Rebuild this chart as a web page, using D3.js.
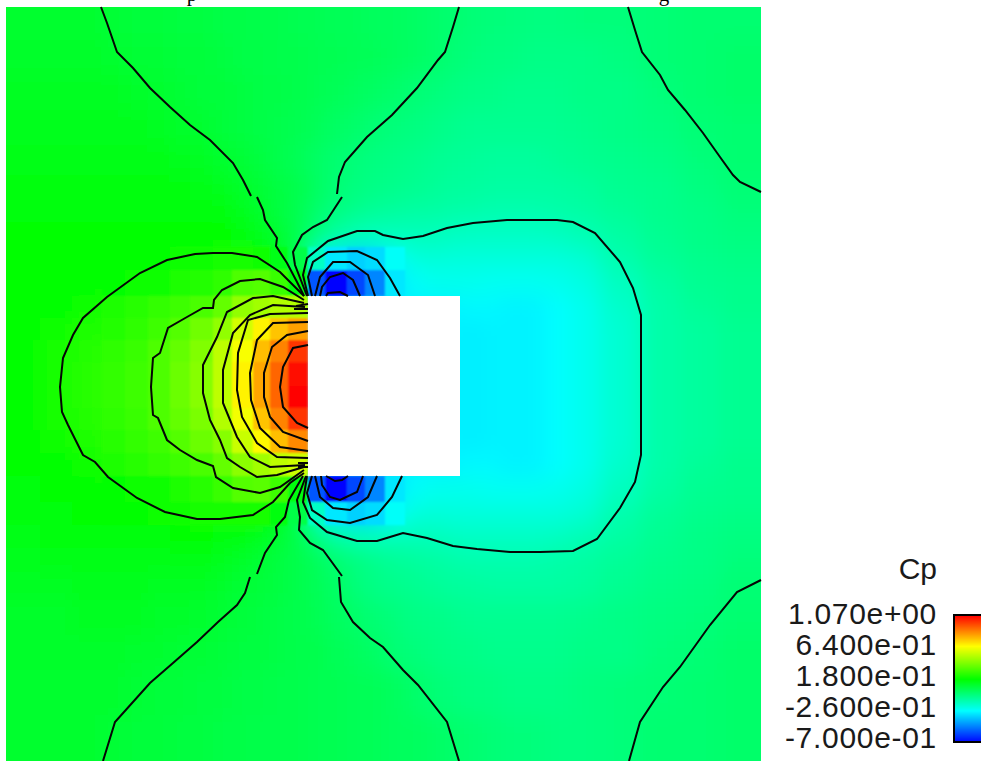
<!DOCTYPE html>
<html>
<head>
<meta charset="utf-8">
<script src="https://cdn.jsdelivr.net/npm/d3@7"></script>
<style>
  html, body { margin: 0; padding: 0; background: #fff; overflow: hidden; }
  svg { display: block; }
</style>
</head>
<body>
<svg id="chart" width="981" height="761"></svg>
<script>
// mesh lines, left to right and top to bottom
var xEdges = [6,40,72,102,125,148,170,190,213,232,253,270,288,308,325,347,365,385,405,425,443,460,480,500,520,545,570,600,640,680,720,761];
var yEdges = [7,40,75,110,145,175,200,222,247,270,296,318,340,362,386,408,430,453,476,502,525,548,572,600,635,670,715,761];
var bodyBox = [308, 296, 460, 476];
var bodyFillCp = -0.28;
// these cells keep hard edges, the far field is blended
var blockyCols = [3, 17];
var blockyRows = [8, 19];

// Cp per mesh cell. null = inside the body
var _ = null;
var cp = [
[.10,.10,.10,.09,.08,.08,.07,.07,.06,.06,.05,.05,.04,.04,.03,.03,.02,.02,.01,.00,-.01,-.02,-.03,-.03,-.04,-.04,-.03,-.03,-.02,-.01,-.01],
[.11,.11,.11,.10,.09,.09,.08,.08,.07,.06,.06,.05,.05,.04,.04,.03,.03,.02,.01,.00,-.02,-.03,-.04,-.04,-.05,-.05,-.05,-.04,-.02,-.01,.00],
[.12,.12,.12,.12,.11,.10,.09,.08,.08,.07,.06,.06,.05,.04,.03,.02,.01,.00,-.02,-.03,-.04,-.05,-.05,-.06,-.06,-.06,-.05,-.05,-.03,-.01,.00],
[.13,.13,.13,.13,.13,.12,.11,.10,.08,.07,.06,.05,.04,.03,.01,.00,-.02,-.03,-.04,-.05,-.06,-.07,-.07,-.07,-.07,-.07,-.06,-.05,-.04,-.02,-.01],
[.14,.14,.14,.14,.14,.14,.13,.12,.10,.09,.07,.05,.03,.01,-.01,-.03,-.04,-.05,-.06,-.07,-.08,-.08,-.09,-.09,-.09,-.08,-.07,-.06,-.05,-.03,-.01],
[.15,.15,.15,.15,.15,.15,.15,.14,.13,.11,.09,.07,.05,.02,-.02,-.04,-.05,-.06,-.07,-.08,-.09,-.09,-.10,-.10,-.10,-.10,-.09,-.07,-.06,-.04,-.02],
[.16,.16,.16,.16,.16,.16,.16,.16,.15,.13,.10,.07,.04,.00,-.04,-.06,-.08,-.09,-.10,-.10,-.11,-.11,-.12,-.12,-.12,-.11,-.10,-.08,-.06,-.05,-.03],
[.17,.17,.17,.17,.17,.17,.17,.17,.17,.15,.13,.10,.05,-.03,-.09,-.13,-.14,-.14,-.14,-.14,-.15,-.16,-.16,-.16,-.16,-.15,-.13,-.10,-.07,-.05,-.04],
[.17,.18,.18,.18,.18,.19,.20,.21,.22,.22,.21,.14,.06,-.16,-.30,-.34,-.32,-.25,-.20,-.19,-.20,-.20,-.20,-.20,-.20,-.20,-.18,-.12,-.08,-.06,-.05],
[.17,.18,.18,.19,.20,.21,.23,.24,.26,.32,.33,.28,.15,-.55,-.70,-.58,-.47,-.30,-.25,-.23,-.23,-.23,-.24,-.24,-.24,-.23,-.21,-.15,-.10,-.07,-.06],
[.17,.19,.21,.23,.25,.27,.29,.31,.36,.44,.47,.50,.50,_,_,_,_,_,_,_,_,-.27,-.27,-.28,-.28,-.26,-.23,-.17,-.11,-.08,-.06],
[.18,.20,.23,.24,.26,.29,.33,.38,.44,.56,.66,.74,.80,_,_,_,_,_,_,_,_,-.29,-.28,-.28,-.28,-.26,-.23,-.18,-.11,-.09,-.07],
[.19,.22,.24,.26,.28,.32,.36,.41,.52,.63,.75,.85,.98,_,_,_,_,_,_,_,_,-.29,-.28,-.28,-.28,-.26,-.23,-.18,-.11,-.09,-.07],
[.19,.22,.25,.27,.29,.32,.37,.42,.52,.66,.79,.90,1.05,_,_,_,_,_,_,_,_,-.29,-.28,-.28,-.28,-.26,-.23,-.18,-.11,-.09,-.07],
[.19,.22,.25,.27,.29,.32,.37,.42,.52,.66,.79,.90,1.06,_,_,_,_,_,_,_,_,-.29,-.28,-.28,-.28,-.26,-.23,-.18,-.11,-.09,-.07],
[.18,.22,.24,.26,.28,.32,.36,.40,.50,.62,.74,.85,.98,_,_,_,_,_,_,_,_,-.29,-.28,-.28,-.28,-.26,-.23,-.18,-.11,-.09,-.07],
[.18,.20,.23,.25,.27,.29,.33,.37,.42,.54,.65,.75,.84,_,_,_,_,_,_,_,_,-.29,-.28,-.28,-.28,-.26,-.23,-.18,-.11,-.09,-.07],
[.17,.19,.21,.23,.25,.27,.29,.31,.36,.43,.47,.52,.55,_,_,_,_,_,_,_,_,-.27,-.27,-.28,-.28,-.26,-.23,-.17,-.11,-.08,-.06],
[.16,.17,.18,.19,.20,.21,.23,.25,.28,.33,.34,.29,.16,-.55,-.70,-.58,-.47,-.30,-.25,-.23,-.23,-.23,-.24,-.24,-.24,-.23,-.21,-.15,-.10,-.07,-.06],
[.15,.16,.17,.17,.18,.20,.21,.22,.22,.22,.22,.15,.06,-.16,-.30,-.34,-.32,-.25,-.20,-.19,-.20,-.20,-.20,-.20,-.20,-.20,-.18,-.12,-.08,-.06,-.05],
[.14,.15,.15,.16,.16,.16,.17,.17,.16,.15,.13,.10,.05,-.03,-.10,-.13,-.14,-.14,-.14,-.14,-.15,-.16,-.16,-.16,-.16,-.15,-.13,-.10,-.07,-.05,-.04],
[.13,.14,.14,.14,.14,.14,.14,.14,.13,.11,.09,.07,.05,.03,-.01,-.04,-.06,-.08,-.09,-.10,-.11,-.12,-.12,-.12,-.12,-.11,-.10,-.08,-.06,-.05,-.03],
[.12,.12,.13,.13,.13,.12,.12,.12,.11,.09,.08,.07,.05,.03,.01,-.03,-.05,-.06,-.07,-.08,-.09,-.09,-.10,-.10,-.10,-.10,-.09,-.07,-.05,-.04,-.02],
[.11,.11,.12,.12,.12,.11,.11,.10,.09,.08,.07,.06,.05,.04,.02,.00,-.02,-.03,-.05,-.05,-.06,-.07,-.07,-.07,-.07,-.07,-.06,-.05,-.04,-.03,-.01],
[.11,.11,.11,.11,.10,.10,.09,.09,.08,.07,.07,.06,.05,.05,.03,.02,.01,-.02,-.03,-.04,-.05,-.05,-.06,-.06,-.06,-.06,-.05,-.05,-.03,-.02,.00],
[.10,.10,.10,.10,.09,.08,.08,.07,.07,.06,.06,.05,.05,.04,.04,.03,.03,.02,.00,-.02,-.03,-.04,-.04,-.05,-.05,-.05,-.04,-.03,-.02,-.01,.00],
[.10,.10,.10,.09,.08,.08,.07,.07,.06,.06,.05,.05,.05,.04,.04,.03,.03,.02,.02,.01,.00,-.01,-.02,-.03,-.03,-.04,-.04,-.03,-.01,-.01,.00]
];

// contour lines, traced in mesh coordinates
var topLeftOuter = [[101,7],[107,23],[117,52],[133,68],[150,88],[170,107],[190,125],[210,140],[233,163],[243,180],[251,196]];
var topLeftInner = [[257,197],[263,210],[265,220],[277,238],[276,246],[287,263],[297,282],[304,296]];
var topMidOuter = [[459,7],[453,27],[445,52],[438,60],[417,88],[392,115],[367,137],[345,162],[339,177],[337,194]];
var topMidInner = [[342,197],[327,220],[313,227],[302,235],[293,252],[295,265],[302,283],[307,296]];
var topRight = [[628,7],[635,30],[642,52],[660,75],[668,90],[685,110],[703,133],[720,157],[733,175],[740,182],[761,192]];
var bottomRight = [[761,580],[737,592],[710,625],[680,667],[663,687],[640,722],[629,761]];
var bottomLeftOuter = [[257,574],[265,553],[277,535],[276,527],[285,517],[289,500],[303,476]];
var bottomLeftFar = [[250,577],[245,593],[237,605],[218,622],[197,642],[173,663],[150,683],[115,722],[103,761]];
var bottomMidInner = [[306,476],[297,500],[300,517],[299,530],[310,543],[323,550],[342,576]];
var bottomMidOuter = [[339,577],[341,602],[353,622],[370,638],[383,647],[403,670],[418,685],[447,722],[459,761]];

var wakeLine = [[308,296],[303,275],[307,258],[328,241],[357,231],[375,231],[383,235],[403,239],[423,236],[447,228],[473,223],[507,220],[557,220],[573,222],[595,233],[620,262],[633,288],[641,315],[641,455],[635,482],[620,508],[597,539],[573,551],[540,552],[510,552],[477,549],[453,546],[427,538],[403,533],[390,537],[377,541],[357,541],[327,532],[310,518],[303,502],[307,476]];

var suctionTop1 = [[400,296],[390,278],[377,260],[357,251],[328,252],[313,262],[308,277],[312,296]];
var suctionTop2 = [[375,296],[368,275],[350,262],[333,262],[320,277],[315,296]];
var suctionTop3 = [[360,296],[353,280],[343,273],[330,277],[322,287],[320,296]];
var suctionTop4 = [[348,296],[340,292],[328,293],[326,296]];
var suctionBot1 = [[402,476],[392,497],[377,515],[350,523],[327,520],[312,510],[307,493],[312,476]];
var suctionBot2 = [[377,476],[368,497],[350,510],[333,508],[320,497],[315,476]];
var suctionBot3 = [[363,476],[357,492],[340,500],[330,497],[322,485],[321,476]];
var suctionBot4 = [[348,476],[342,480],[335,481],[326,476]];

var front1 = [[304,296],[293,285],[280,272],[257,257],[232,253],[213,253],[195,254],[167,260],[140,273],[107,297],[83,318],[73,335],[63,358],[60,387],[62,412],[68,425],[83,455],[95,462],[108,477],[137,498],[165,512],[197,519],[220,519],[253,515],[273,502],[290,483],[304,473]];
var front2 = [[304,300],[283,287],[260,279],[240,281],[222,290],[214,300],[213,308],[203,308],[187,317],[168,328],[160,353],[153,358],[151,387],[153,415],[158,418],[167,440],[180,450],[197,460],[213,466],[216,477],[233,488],[260,493],[280,487],[304,470]];
var front3 = [[304,303],[273,296],[253,298],[227,312],[217,337],[203,365],[203,393],[210,420],[220,440],[227,458],[240,467],[257,477],[277,475],[304,467]];
var front4 = [[305,307],[273,305],[250,315],[233,333],[223,370],[223,403],[237,437],[250,457],[270,467],[305,465]];
var front5 = [[308,313],[270,314],[248,320],[238,353],[237,390],[242,417],[257,443],[277,457],[308,458]];
var front6 = [[308,322],[273,323],[257,340],[250,373],[251,400],[260,428],[280,447],[308,451]];
var front7 = [[308,331],[287,335],[272,347],[264,373],[264,397],[270,417],[283,432],[308,441]];
var front8 = [[308,345],[293,348],[283,367],[280,387],[283,407],[297,423],[308,428]];
var cornerTop = [[296,306],[308,304]];
var cornerTop2 = [[294,309],[308,309]];
var cornerBot = [[298,463],[308,463]];
var cornerBot2 = [[298,467],[308,467]];

var contours = [topLeftOuter, topLeftInner, topMidOuter, topMidInner, topRight, bottomRight,
  bottomLeftOuter, bottomLeftFar, bottomMidInner, bottomMidOuter, wakeLine,
  suctionTop1, suctionTop2, suctionTop3, suctionTop4, suctionBot1, suctionBot2, suctionBot3, suctionBot4,
  front1, front2, front3, front4, front5, front6, front7, front8, cornerTop, cornerTop2, cornerBot, cornerBot2];

// legend
var legendTitle = "Cp";
var legendTicks = [1.07, 0.64, 0.18, -0.26, -0.7];
var legendLabels = ["1.070e+00", "6.400e-01", "1.800e-01", "-2.600e-01", "-7.000e-01"];
// cut off text at the page top, only the descenders show
var clippedLetters = [{text: "p", x: 192}, {text: "g", x: 664}];

var svg = d3.select("#chart");

var x = d3.scaleLinear().domain([6, 761]).range([6, 761]);
var y = d3.scaleLinear().domain([7, 761]).range([7, 761]);

var color = d3.scaleLinear()
  .domain([-0.7, -0.48, -0.26, -0.04, 0.18, 0.41, 0.64, 0.855, 1.07])
  .range(["#0000ff", "#0080ff", "#00ffff", "#00ff80", "#00ff00", "#80ff00", "#ffff00", "#ff8000", "#ff0000"])
  .clamp(true);

var defs = svg.append("defs");
defs.append("clipPath").attr("id", "plotClip").append("rect")
  .attr("x", x(6)).attr("y", y(7))
  .attr("width", x(761) - x(6)).attr("height", y(761) - y(7));

function addBlur(id, dev) {
  defs.append("filter").attr("id", id)
    .attr("filterUnits", "userSpaceOnUse")
    .attr("x", -100).attr("y", -100).attr("width", 1100).attr("height", 1000)
    .append("feGaussianBlur").attr("stdDeviation", dev);
}
addBlur("farBlur", 11);
addBlur("nearBlur", 0.8);

var cells = [];
cp.forEach(function(row, j) {
  row.forEach(function(v, i) {
    if (v != null) cells.push({i: i, j: j, v: v});
  });
});

function cellLeft(d)   { return d.i == 0 ? x(6) - 40 : x(xEdges[d.i]); }
function cellRight(d)  { return d.i == 30 ? x(761) + 40 : x(xEdges[d.i + 1]); }
function cellTop(d)    { return d.j == 0 ? y(7) - 40 : y(yEdges[d.j]); }
function cellBottom(d) { return d.j == 26 ? y(761) + 40 : y(yEdges[d.j + 1]); }

var plot = svg.append("g").attr("clip-path", "url(#plotClip)");

// far field, blended. cells run past the frame so the blur does not fade at the edge
var farLayer = plot.append("g").attr("filter", "url(#farBlur)");
farLayer.append("rect")
  .attr("x", x(bodyBox[0]))
  .attr("y", y(bodyBox[1]))
  .attr("width", x(bodyBox[2]) - x(bodyBox[0]))
  .attr("height", y(bodyBox[3]) - y(bodyBox[1]))
  .attr("shape-rendering", "crispEdges")
  .style("fill", color(bodyFillCp));
farLayer.selectAll(".farCell").data(cells)
  .enter().append("rect")
  .attr("class", "farCell")
  .attr("x", cellLeft)
  .attr("y", cellTop)
  .attr("width", function(d) { return cellRight(d) - cellLeft(d); })
  .attr("height", function(d) { return cellBottom(d) - cellTop(d); })
  .attr("shape-rendering", "crispEdges")
  .style("fill", function(d) { return color(d.v); });

// blocks around the body
var nearCells = cells.filter(function(d) {
  return d.i >= blockyCols[0] && d.i <= blockyCols[1] && d.j >= blockyRows[0] && d.j <= blockyRows[1];
});
plot.append("g").attr("filter", "url(#nearBlur)").selectAll("rect").data(nearCells)
  .enter().append("rect")
  .attr("x", cellLeft)
  .attr("y", cellTop)
  .attr("width", function(d) { return cellRight(d) - cellLeft(d); })
  .attr("height", function(d) { return cellBottom(d) - cellTop(d); })
  .attr("shape-rendering", "crispEdges")
  .style("fill", function(d) { return color(d.v); });

// body
svg.append("rect")
  .attr("x", x(bodyBox[0]))
  .attr("y", y(bodyBox[1]))
  .attr("width", x(bodyBox[2]) - x(bodyBox[0]))
  .attr("height", y(bodyBox[3]) - y(bodyBox[1]))
  .style("fill", "#fff");

var line = d3.line()
  .x(function(d) { return x(d[0]); })
  .y(function(d) { return y(d[1]); });

svg.append("g").selectAll("path").data(contours)
  .enter().append("path")
  .attr("d", line)
  .style("fill", "none")
  .style("stroke", "#050505")
  .style("stroke-width", 2);

// colour bar, runs off the right edge of the page
var barY = d3.scaleLinear().domain([-0.7, 1.07]).range([742, 615]);
var barStops = d3.range(0, 127).map(function(k) { return barY.invert(615 + k); });

svg.append("g").selectAll("rect").data(barStops)
  .enter().append("rect")
  .attr("x", 954)
  .attr("y", function(d) { return barY(d); })
  .attr("width", 28)
  .attr("height", 1.5)
  .attr("shape-rendering", "crispEdges")
  .style("fill", function(d) { return color(d); });

svg.append("rect")
  .attr("x", 954)
  .attr("y", 615)
  .attr("width", 30)
  .attr("height", 127)
  .style("fill", "none")
  .style("stroke", "#000")
  .style("stroke-width", 2);

var labelY = d3.scalePoint().domain(legendTicks).range([624, 748]);

svg.append("g").selectAll("text").data(legendTicks)
  .enter().append("text")
  .attr("x", 937)
  .attr("y", function(d) { return labelY(d); })
  .attr("text-anchor", "end")
  .attr("font-family", "'Liberation Sans', Arial, sans-serif")
  .attr("font-size", "30px")
  .attr("letter-spacing", "0.7px")
  .attr("fill", "#1a1a1a")
  .text(function(d, i) { return legendLabels[i]; });

svg.append("text")
  .attr("x", 937)
  .attr("y", 579)
  .attr("text-anchor", "end")
  .attr("font-family", "'Liberation Sans', Arial, sans-serif")
  .attr("font-size", "30px")
  .attr("fill", "#1a1a1a")
  .text(legendTitle);

svg.append("g").selectAll("text").data(clippedLetters)
  .enter().append("text")
  .attr("x", function(d) { return d.x; })
  .attr("y", 1)
  .attr("text-anchor", "middle")
  .attr("font-family", "'Liberation Serif', 'Times New Roman', serif")
  .attr("font-size", "21px")
  .attr("fill", "#000")
  .text(function(d) { return d.text; });
</script>
</body>
</html>
